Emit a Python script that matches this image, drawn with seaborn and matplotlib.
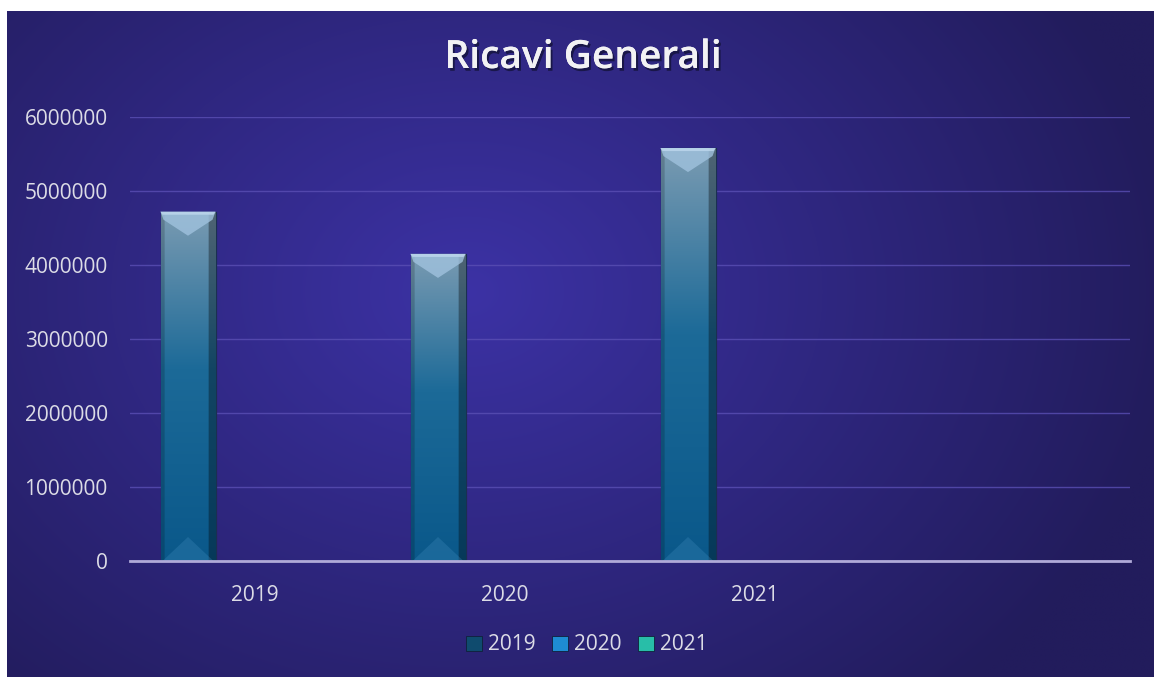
import numpy as np
import pandas as pd
import matplotlib
matplotlib.use("Agg")
import matplotlib.pyplot as plt
import matplotlib.patheffects as pe
from matplotlib.patches import Patch, Polygon
import seaborn as sns

# ---- data ----
categories = ["2019", "2020", "2021"]
series = ["2019", "2020", "2021"]
ricavi_2019 = [4720000, 4150000, 5580000]
ricavi_2020 = [0, 0, 0]
ricavi_2021 = [0, 0, 0]
y_ticks = [0, 1000000, 2000000, 3000000, 4000000, 5000000, 6000000]

rows = []
for s, vals in zip(series, [ricavi_2019, ricavi_2020, ricavi_2021]):
    for c, v in zip(categories, vals):
        rows.append({"categoria": c, "serie": s, "ricavi": v})
df = pd.DataFrame(rows)

legend_colors = ["#0f4b6e", "#1e8cd2", "#28bea8"]
text_color = "#dcdce6"

plt.rcParams["font.family"] = ["Open Sans", "DejaVu Sans"]

W, H = 1154, 677
fig = plt.figure(figsize=(W / 100, H / 100), dpi=100, facecolor="white")

# ---- background radial gradient ----
bg = fig.add_axes([7 / W, 0, (W - 7) / W, (H - 11) / H])
bg.set_axis_off()
ny, nx = 300, 500
yy, xx = np.mgrid[0:ny, 0:nx]
cx, cy = 0.40 * nx, 0.42 * ny
r = np.sqrt(((xx - cx) / nx) ** 2 + ((yy - cy) / ny * 0.75) ** 2)
r = np.clip(r / 0.62, 0, 1)
c_in = np.array([60, 50, 165]) / 255
c_out = np.array([34, 28, 92]) / 255
img = c_in[None, None, :] * (1 - r[..., None]) + c_out[None, None, :] * r[..., None]
bg.imshow(img, aspect="auto", extent=[0, 1, 0, 1], interpolation="bilinear")
bg.set_xlim(0, 1)
bg.set_ylim(0, 1)

# ---- main axes ----
ax = fig.add_axes([130 / W, 1 - 561 / H, 1000 / W, 444 / H])
ax.set_facecolor("none")
sns.barplot(data=df, x="categoria", y="ricavi", hue="serie", hue_order=series,
            order=categories, width=0.66, dodge=True, palette=legend_colors,
            errorbar=None, legend=False, linewidth=0, ax=ax)

ax.set_xlim(-0.5, 3.5)
ax.set_ylim(0, 6000000)
ax.set_yticks(y_ticks)
ax.set_yticklabels([str(v) for v in y_ticks])
ax.set_xlabel("")
ax.set_ylabel("")
ax.tick_params(axis="both", length=0, labelcolor=text_color, labelsize=15)
ax.tick_params(axis="y", pad=16)
ax.tick_params(axis="x", pad=17)
ax.grid(axis="y", color="#5a4fb4", linewidth=1.0, alpha=0.8)
ax.grid(axis="x", visible=False)
ax.set_axisbelow(True)
for sp in ["top", "right", "left"]:
    ax.spines[sp].set_visible(False)
ax.spines["bottom"].set_color("#b0aad8")
ax.spines["bottom"].set_linewidth(2)
ax.spines["bottom"].set_zorder(5)

# ---- bar styling: gradient + bevel ----
ph = 6000000 / 444.0   # data units per pixel (y)
pw = 4.0 / 1000.0      # data units per pixel (x)
gy = np.linspace(0, 1, 200)
top_c = np.array([122, 155, 178]) / 255
mid_c = np.array([28, 106, 152]) / 255
bot_c = np.array([10, 88, 138]) / 255
col = np.where(gy[:, None] < 0.45,
               top_c * (1 - gy[:, None] / 0.45) + mid_c * (gy[:, None] / 0.45),
               mid_c * (1 - (gy[:, None] - 0.45) / 0.55) + bot_c * ((gy[:, None] - 0.45) / 0.55))
gx = np.linspace(0, 1, 60)
shade = np.ones_like(gx)
shade[gx > 0.88] = 0.65
shade[gx < 0.06] = 0.82
bar_img = col[:, None, :] * shade[None, :, None]

for p in list(ax.patches):
    h = p.get_height()
    if h <= 0:
        p.set_visible(False)
        continue
    p.set_x(p.get_x() - 0.048)
    x0, w = p.get_x(), p.get_width()
    x1 = x0 + w
    p.set_facecolor("none")
    p.set_edgecolor("#1a3050")
    p.set_linewidth(0.8)
    im = ax.imshow(bar_img, extent=[x0, x1, 0, h], aspect="auto", zorder=2,
                   interpolation="bilinear")
    im.set_clip_path(p)
    xc = (x0 + x1) / 2
    # top bevel
    ax.add_patch(Polygon([(x0, h), (x1, h), (x1 - 3 * pw, h - 8 * ph),
                          (xc, h - 24 * ph), (x0 + 3 * pw, h - 8 * ph)],
                         closed=True, facecolor="#a0c2de", edgecolor="none",
                         alpha=0.8, zorder=3))
    ax.add_patch(Polygon([(x0, h), (x1, h), (x1 - 2 * pw, h - 3 * ph),
                          (x0 + 2 * pw, h - 3 * ph)],
                         closed=True, facecolor="#bcd6ec", edgecolor="none",
                         alpha=0.85, zorder=3))
    # bottom bevel
    ax.add_patch(Polygon([(x0 + 2 * pw, 0), (x1 - 2 * pw, 0), (xc, 24 * ph)],
                         closed=True, facecolor="#3a86b8", edgecolor="none",
                         alpha=0.35, zorder=3))
    ax.add_patch(p)

# ---- title ----
fig.text(583 / W, 1 - 58 / H, "Ricavi Generali",
         ha="center", va="center", fontsize=28, fontweight="semibold", color="#f2f2f4",
         path_effects=[pe.withSimplePatchShadow(offset=(1.5, -2), shadow_rgbFace="#101030", alpha=0.7),
                       pe.Normal()])

# ---- legend ----
handles = [Patch(facecolor=c, edgecolor="#10203a", linewidth=0.6) for c in legend_colors]
leg = fig.legend(handles, series, loc="center", bbox_to_anchor=(587 / W, 1 - 645 / H),
                 ncol=3, frameon=False, fontsize=15, labelcolor=text_color,
                 handlelength=0.75, handleheight=0.75, handletextpad=0.3,
                 columnspacing=0.8)

fig.savefig("out.png", dpi=100, facecolor="white")
